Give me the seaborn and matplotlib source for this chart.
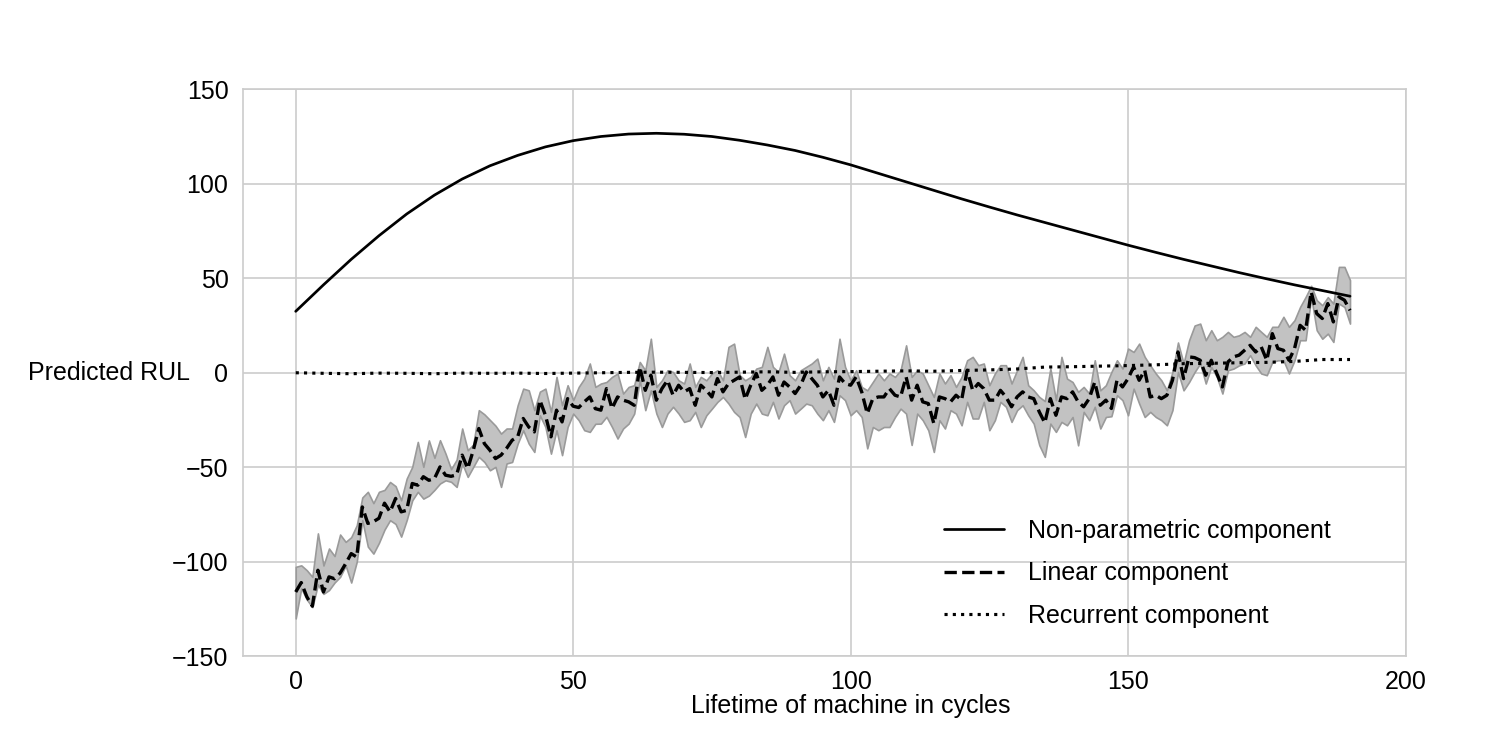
import numpy as np
import matplotlib
matplotlib.use("Agg")
import matplotlib.pyplot as plt
import seaborn as sns

# cycles 0..190, linear component with its band
cycles = list(range(191))

linear_mean = [
    -116, -111, -118.5, -123.5, -104.5, -116, -108, -109, -106, -101,
    -95.7, -97.5, -71, -79.7, -78.8, -77, -69, -73.6, -66.5, -73.6,
    -72.8, -58.6, -59.5, -55, -56.9, -56, -49.8, -54.2, -54.8, -54,
    -43.6, -50.7, -41, -29.5, -37.5, -41, -45.4, -43.6, -40, -35.7,
    -33.9, -24.2, -28.7, -31.3, -14.5, -22.5, -33.9, -19.8, -26, -13.7,
    -17.7, -18.4, -15.4, -12.8, -19, -19.8, -8.4, -18.9, -12.8, -14.5,
    -15.4, -17.2, 3.1, -9.3, -1.3, -14.5, -8.4, -4, -11.9, -6.6,
    -10.1, -8.4, -17.2, -6.6, -9.3, -12.8, -3.1, -10.1, -5.7, -4,
    -2.2, -14, -6.6, -0.4, -9.3, -6.6, -2.2, -11.9, -4.9, -7.5,
    -11, -6.6, 0.4, -3.1, -6.6, -12.8, -9.3, -17.2, -2.2, -5.7,
    -6.6, -2.2, -10.1, -21.6, -13.7, -12.8, -12.8, -8.4, -11.9, -12.8,
    -2.2, -14.5, -6.6, -15.4, -16.3, -26.9, -12.8, -13.7, -15.4, -11.9,
    -14.5, 1.3, -9.3, -5.7, -8.4, -14.5, -14.5, -9.3, -12.8, -18,
    -12.8, -10.1, -12.8, -13.7, -20.7, -26.5, -13.7, -22.5, -12.8, -13.7,
    -10.1, -15.4, -18, -13.7, -4.9, -17.2, -14.5, -18.9, -4, -7.5,
    -3.1, 3.1, -4, 1.3, -12.8, -11.9, -13.7, -11.9, -4, 11,
    -3.1, 8.4, 8, 6.6, -1.3, 6.6, -0.4, -7.5, 5.7, 8.4,
    9.3, 11.9, 14.5, 11, 13.7, 6.6, 20.7, 12.8, 11.9, 6.6,
    12.8, 25.1, 22.5, 42.8, 31.3, 28.7, 36.6, 26.9, 40.1, 38.4,
    33,
]

linear_upper = [
    -102.7, -101.9, -104.5, -108, -85, -102, -93, -97, -85.6, -89.5,
    -87, -80.7, -66, -63, -69, -63, -62, -57.8, -60, -67.5,
    -56, -49.8, -36.6, -49.8, -35.8, -45, -35.7, -42.8, -51, -46,
    -29.5, -41, -38, -19.8, -22, -25, -28, -32.2, -29.5, -29.5,
    -17.2, -8.4, -9.3, -19.8, -10, -8.4, -20.7, -2.2, -17.2, -6.6,
    -14.5, -7.5, -3.1, 4.9, -7.5, -5.7, -4.9, -2.2, -0.4, -11,
    -7.5, -6.6, 5.7, 1.3, 18, -7.5, -4, 1.3, 0.4, -4,
    -5.7, 4.9, -7.5, -2.2, -4, -0.4, 1.3, -4, 13.7, 15.4,
    -1.3, -4, -2.2, 2.2, 3.1, 13.7, 3.1, 0.4, 10.1, -1.3,
    -4, 1.3, 3.1, 4.9, 7.5, -4, 3.1, -3.1, 18, 3.1,
    -4, 1.3, -7.5, -9.3, -4.9, -0.4, -4, -0.4, -2.2, 1.3,
    14.5, -2.2, 1.3, -0.4, -6.6, -12.8, -0.4, -5.7, -1.3, -7.5,
    -2.2, 6.6, 8.4, 4, 4.9, -6.6, -0.4, 4, 4, -5.7,
    1.3, 8.4, -6.6, -9.3, -12.8, -15, 2.2, -14.5, 8.4, -3.1,
    -4.9, -10.1, -7.5, -11, 6.6, -9.3, -6.6, 0.4, 6.6, 2.2,
    12.8, 11, 15.4, 8.4, 3.9, -0.4, -4, -9.3, 0.4, 16,
    4.9, 17.2, 25, 26, 17.2, 22.5, 17.2, 19, 21.6, 19,
    19.8, 21.6, 19, 24.3, 21.6, 19, 24.3, 24.3, 29.6, 24.3,
    27.8, 34.8, 40.1, 46, 38.4, 35.7, 40, 36.6, 56, 56,
    49,
]

linear_lower = [
    -130, -114, -120, -124, -112, -117, -115, -111, -108, -102,
    -111, -100, -78, -92, -95.7, -90, -83, -78, -80, -86.7,
    -78, -67.5, -63, -66.6, -65, -62, -58.6, -56.9, -57.7, -60.4,
    -48, -55.1, -49.8, -44.5, -47.2, -51.6, -49.8, -60.4, -48, -47.2,
    -37.5, -30.4, -37.5, -41.9, -22.5, -28.7, -42.8, -30.4, -43.6, -28.7,
    -21.6, -25.1, -30.4, -31.3, -27, -26.9, -23.3, -28.7, -34.8, -29.5,
    -26.9, -21.6, -4, -19.8, -9.3, -21.6, -28.7, -21.6, -18, -21.6,
    -26, -25.1, -20.7, -28.7, -22.5, -19, -15.4, -12.8, -16.3, -20.7,
    -23.4, -34, -21.6, -16.3, -21.6, -22.5, -15.4, -24.2, -17.2, -14.5,
    -21.6, -19, -16.3, -17.2, -21.6, -25.1, -19.8, -26, -11.9, -14.5,
    -22.5, -19.8, -23.4, -40, -28.7, -30.4, -28.7, -28.7, -23.4, -19,
    -21.6, -38.2, -21.6, -25.1, -30.4, -41.9, -25.1, -29.5, -19.8, -21.6,
    -27.8, -15.4, -24.2, -24.2, -15.4, -30.4, -25.1, -15.4, -18, -26,
    -19.8, -17.2, -22.5, -26.9, -38.3, -44.5, -26.9, -31.3, -26, -27.8,
    -23.4, -38.4, -20.7, -25.1, -18, -29.5, -23.4, -23, -11.9, -14.5,
    -22.5, -8.4, -16.3, -23.4, -20.7, -23.4, -25.1, -27.8, -19.8, 0.4,
    -9.3, -4.9, 0.4, 4.9, -5.7, 3.1, -2.2, -11, 1.3, 2.2,
    3.9, 4.9, 9.3, 3.9, -0.4, -1.3, 5.7, 6.6, 6.6, -0.4,
    6.6, 17.2, 17.2, 40.1, 22.5, 18, 20.7, 16.3, 36.6, 34.8,
    26,
]

# smooth components, read every 5 cycles
cycles_5 = list(range(0, 191, 5))
nonparam = [
    32.5, 46.5, 60, 72.5, 84, 94, 102.5, 109.5, 115, 119.5,
    122.8, 125, 126.3, 126.7, 126.2, 125, 123, 120.5, 117.6, 114,
    110, 105.5, 101, 96.5, 92, 87.7, 83.5, 79.5, 75.5, 71.5,
    67.5, 63.7, 60, 56.5, 53, 49.7, 46.5, 43.5, 40.5,
]
recurrent = [
    0, -0.3, -0.5, -0.2, -0.3, -0.5, -0.2, -0.3, -0.2, -0.4,
    -0.2, 0, 0.2, 0.3, 0.2, 0.1, 0.3, 0.5, 0.2, 0.5,
    0.6, 0.8, 1, 0.8, 1.2, 1.5, 2, 3, 3.2, 3.5,
    3.8, 4.2, 4.8, 5, 5.3, 5.5, 6, 7, 7,
]

sns.set_style("whitegrid")
plt.rcParams["font.family"] = ["Liberation Sans", "DejaVu Sans"]
plt.rcParams["font.size"] = 12
plt.rcParams["text.color"] = "black"
plt.rcParams["axes.labelcolor"] = "black"

fig, ax = plt.subplots(figsize=(10, 5), dpi=150)
fig.subplots_adjust(left=0.162, right=0.937, top=0.881, bottom=0.125)

ax.fill_between(cycles, linear_lower, linear_upper, facecolor="#c2c2c2",
                edgecolor="#9a9a9a", linewidth=0.8, zorder=1)
sns.lineplot(x=cycles_5, y=nonparam, ax=ax, color="black", linewidth=1.3,
             label="Non-parametric component", zorder=3)
sns.lineplot(x=cycles, y=linear_mean, ax=ax, color="black", linewidth=1.6,
             linestyle="--", label="Linear component", zorder=3)
sns.lineplot(x=cycles_5, y=recurrent, ax=ax, color="black", linewidth=1.5,
             linestyle=":", label="Recurrent component", zorder=3)

ax.set_ylim(-150, 150)
ax.set_xlim(-9.5, 200)
ax.set_xticks([0, 50, 100, 150, 200])
ax.set_yticks([-150, -100, -50, 0, 50, 100, 150])
ax.tick_params(labelsize=12, colors="black")
ax.tick_params(axis="x", pad=3)
for s in ax.spines.values():
    s.set_color("#cccccc")

ax.set_ylabel("Predicted RUL", rotation=0, ha="right", va="center", fontsize=12)
ax.yaxis.set_label_coords(-0.046, 0.5)
ax.set_xlabel("Lifetime of machine in cycles", fontsize=12)
ax.xaxis.set_label_coords(0.523, -0.066)

leg = ax.legend(loc="lower right", bbox_to_anchor=(0.955, 0.01), frameon=False,
                fontsize=12, handlelength=2.4, handletextpad=0.95,
                labelspacing=0.75)
for t in leg.get_texts():
    t.set_color("black")

fig.savefig("out.png", dpi=150)
